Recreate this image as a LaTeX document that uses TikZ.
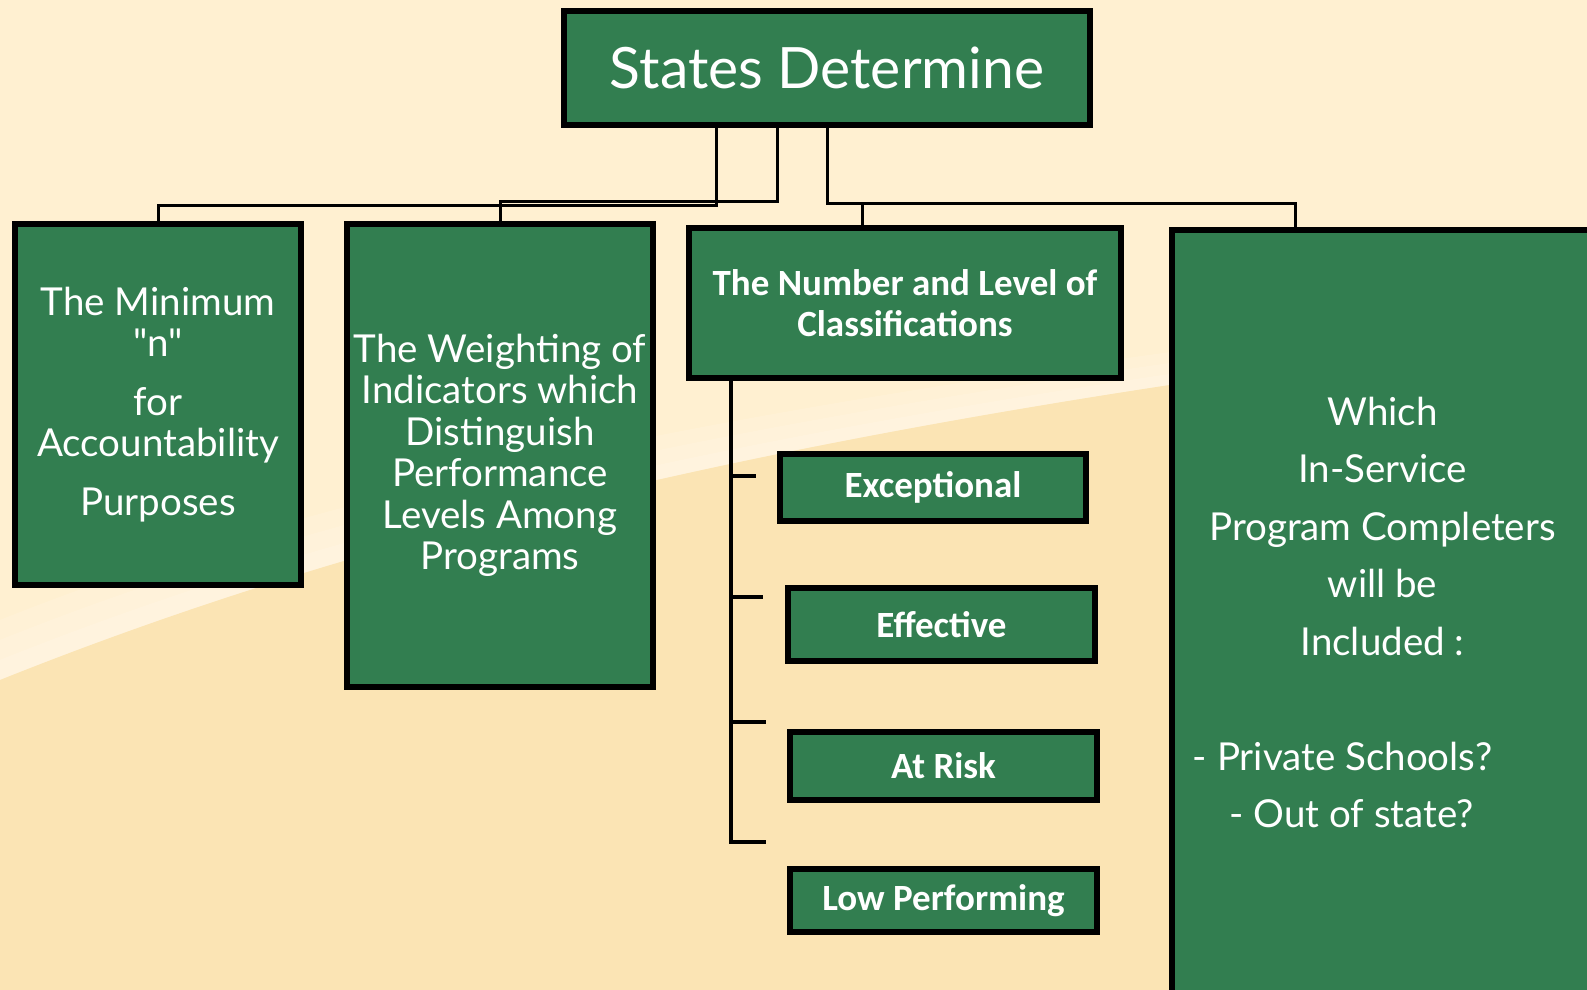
\documentclass[tikz,border=0pt]{standalone}
\usepackage{fontspec}
\newfontfamily\plainface{Lato}
\newfontfamily\boldface{Carlito}
\definecolor{boxgreen}{RGB}{50,126,80}
\definecolor{creamtop}{RGB}{255,240,209}
\definecolor{creamlow}{RGB}{251,228,180}
\tikzset{
	greenbox/.style={draw=black,line width=6pt,fill=boxgreen,text=white,align=center,inner sep=0pt},
	plain/.style={font=\plainface\fontsize{38.5}{41.5}\selectfont},
	heavy/.style={font=\boldface\bfseries\fontsize{37}{41}\selectfont},
	link/.style={line width=3pt},
	trunk/.style={line width=4pt},
}
\begin{document}
\begin{tikzpicture}[x=1pt,y=-1pt]
		\useasboundingbox (0,0) rectangle (1587,990);
		% backdrop with the lower swoosh
		\fill[creamtop] (0,0) rectangle (1587,990);
		\foreach \h in {20,40,60}
		\fill[white,opacity=.12] (0,680) .. controls (350,540) and (800,420) .. (1587,330)
		-- (1587,330-\h/2) .. controls (800,420-\h/2) and (350,540-\h) .. (0,680-\h) -- cycle;
		\fill[creamlow] (0,680) .. controls (350,540) and (800,420) .. (1587,330)
		-- (1587,990) -- (0,990) -- cycle;
		
		\node[greenbox,font=\plainface\fontsize{57}{60}\selectfont,minimum width=526pt,minimum height=114pt]
		(top) at (827,68) {States Determine};
		\node[greenbox,plain,minimum width=286pt,minimum height=361pt] (minimum) at (158,404.5)
		{The Minimum\\ \symbol{34}n\symbol{34}\\[17pt] for\\ Accountability\\[17pt] Purposes};
		\node[greenbox,plain,minimum width=306pt,minimum height=463pt] (weight) at (500,455.5)
		{The Weighting of\\ Indicators which\\ Distinguish\\ Performance\\ Levels Among\\ Programs};
		\node[greenbox,heavy,minimum width=432pt,minimum height=150pt] (levels) at (905,303)
		{The Number and Level of\\ Classifications};
		\node[greenbox,font=\plainface\fontsize{38.5}{57.5}\selectfont,minimum width=421pt,minimum height=765pt]
		(which) at (1382.5,612.5)
		{Which\\ In-Service\\ Program Completers\\ will be\\ Included :\\ ~\\
			- Private Schools?\kern80pt\\ - Out of state?\kern62pt};
		
		% the four classification levels
		\node[greenbox,heavy,minimum width=306pt,minimum height=67pt] (exc) at (933,487.5) {Exceptional};
		\node[greenbox,heavy,minimum width=307pt,minimum height=73pt] (eff) at (941.5,624.5) {Effective};
		\node[greenbox,heavy,minimum width=307pt,minimum height=68pt] (risk) at (943.5,766) {At Risk};
		\node[greenbox,heavy,minimum width=307pt,minimum height=63pt] (low) at (943.5,900.5) {Low Performing};
		
		% branches down from the title box
		\draw[link] ([xshift=-111pt]top.south) -- ++(0,77) -| (minimum.north);
		\draw[link] ([xshift=-50pt]top.south) -- ++(0,73) -| (weight.north);
		\draw[link] (top.south) -- ++(0,75) -| ([xshift=-43pt]levels.north);
		\draw[link] (top.south) ++(0,75) -| ([xshift=-87pt]which.north);
		
		% stem with its ticks under the classification box
		\path
		(756,476) coordinate (tickA)
		(763,597) coordinate (tickB)
		(766,722) coordinate (tickC)
		(766,842) coordinate (tickD)
		;
		\draw[trunk] ([xshift=45pt]levels.south west) coordinate (stem) |- (tickD);
		\foreach \t in {tickA,tickB,tickC}
		\draw[trunk] (stem |- \t) -- (\t);
\end{tikzpicture}
\end{document}
